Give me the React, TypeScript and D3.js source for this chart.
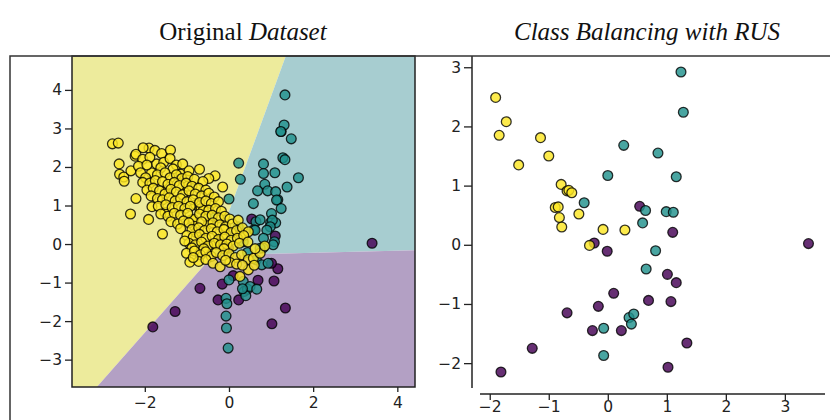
import React, { useEffect, useRef } from 'react';
import * as d3 from 'd3';

type Pt = [number, number];

// minority class, kept whole by RUS so it shows up in both panels
const purplePts: Pt[] = [
  [3.40, 0.02], [-1.81, -2.15], [-1.28, -1.75], [-0.69, -1.15], [-0.26, -1.45], [-0.16, -1.04],
  [0.23, -1.45], [0.10, -0.82], [0.69, -0.94], [1.07, -0.96], [1.16, -0.64], [1.01, -0.50],
  [1.02, -2.07], [1.34, -1.66], [0.54, 0.65], [1.10, 0.21], [-0.01, -0.11], [-0.23, 0.03],
];

// teal points kept by RUS
const tealRus: Pt[] = [
  [1.24, 2.92], [1.28, 2.24], [0.27, 1.68], [0.85, 1.55], [0.00, 1.17], [1.16, 1.15],
  [-0.40, 0.71], [0.64, 0.58], [0.99, 0.56], [1.11, 0.55], [0.59, 0.37], [0.81, -0.10],
  [0.65, -0.41], [0.36, -1.23], [0.44, -1.17], [0.40, -1.34], [-0.07, -1.41], [-0.07, -1.87],
];

// teal points dropped by RUS
const tealExtra: Pt[] = [
  [1.33, 3.87], [1.31, 3.09], [1.23, 2.92], [1.48, 2.73], [1.33, 2.19], [0.23, 2.10],
  [0.82, 2.08], [0.82, 1.83], [1.09, 1.85], [1.65, 1.72], [0.68, 1.38], [0.92, 1.38],
  [1.11, 1.36], [1.38, 1.48], [1.13, 1.14], [1.24, 0.92], [0.58, 1.05], [1.01, 0.79],
  [1.03, 0.62], [0.74, 0.63], [0.98, 0.45], [0.62, 0.36], [0.90, 0.36], [0.34, 0.06],
  [0.82, 0.15], [1.08, 0.06], [1.05, -0.02], [0.74, -0.11], [0.44, -0.22], [0.78, -0.54],
  [0.93, -0.50], [0.00, -0.93], [0.34, -0.97], [0.50, -1.10], [0.66, -1.17], [0.32, -1.16],
  [-0.05, -1.55], [-0.06, -2.18], [-0.02, -2.70], [0.22, 0.45],
];

// yellow points kept by RUS
const yellowRus: Pt[] = [
  [-1.90, 2.49], [-1.72, 2.08], [-1.84, 1.85], [-1.51, 1.35], [-1.14, 1.81], [-1.00, 1.50],
  [-0.79, 1.02], [-0.69, 0.91], [-0.66, 0.92], [-0.61, 0.88], [-0.89, 0.63], [-0.84, 0.64],
  [-0.82, 0.46], [-0.78, 0.30], [-0.49, 0.52], [-0.08, 0.26], [0.29, 0.25], [-0.31, -0.01],
];

// yellow points dropped by RUS
const yellowExtra: Pt[] = [
  [-2.77, 2.60], [-2.63, 2.62], [-2.61, 2.08], [-2.60, 1.81], [-2.50, 1.74], [-2.49, 1.63],
  [-2.33, 1.90], [-2.23, 2.28], [-2.21, 2.33], [-2.04, 2.50], [-1.76, 2.43], [-1.60, 2.35],
  [-1.39, 2.44], [-2.21, 1.18], [-2.34, 0.78], [-1.91, 0.64], [-1.58, 0.26], [-1.83, 0.97],
  [-1.52, 0.82], [-0.70, 1.94], [-0.33, 1.77], [-0.15, 1.48], [-0.48, 1.70],
  [-2.05, 2.20], [-1.88, 2.25], [-1.55, 2.12], [-1.40, 2.22], [-1.25, 2.05], [-1.10, 2.08],
  [-2.15, 2.02], [-1.95, 2.05], [-1.62, 1.98], [-1.33, 1.95], [-0.95, 1.90],
  [-2.10, 1.85], [-1.98, 1.72], [-1.70, 1.80], [-1.52, 1.85], [-1.40, 1.72], [-1.25, 1.80],
  [-1.12, 1.70], [-0.98, 1.75], [-0.82, 1.68], [-0.62, 1.62], [-2.05, 1.60], [-1.88, 1.58],
  [-1.75, 1.65], [-1.58, 1.62], [-1.45, 1.55], [-1.30, 1.60], [-1.18, 1.52], [-1.02, 1.58],
  [-0.88, 1.50], [-0.72, 1.45], [-0.55, 1.40],
  [-1.95, 1.40], [-1.80, 1.45], [-1.65, 1.38], [-1.52, 1.30], [-1.38, 1.42], [-1.25, 1.35],
  [-1.10, 1.28], [-0.95, 1.38], [-0.80, 1.30], [-0.65, 1.25], [-0.48, 1.32], [-0.35, 1.22],
  [-1.85, 1.25], [-1.70, 1.18], [-1.58, 1.15], [-1.42, 1.20], [-1.28, 1.12], [-1.15, 1.18],
  [-1.00, 1.10], [-0.85, 1.15], [-0.70, 1.08], [-0.55, 1.12], [-0.42, 1.05], [-0.25, 1.10],
  [-1.68, 0.98], [-1.50, 1.02], [-1.35, 0.95], [-1.20, 0.98], [-1.05, 0.92], [-0.92, 0.98],
  [-0.48, 0.88], [-0.32, 0.92], [-0.18, 0.85], [-1.62, 0.78], [-1.45, 0.72], [-1.30, 0.80],
  [-1.15, 0.75], [-0.98, 0.80], [-0.70, 0.78], [-0.55, 0.72], [-0.40, 0.75],
  [-0.25, 0.68], [-0.10, 0.72], [0.02, 0.65],
  [-1.38, 0.58], [-1.22, 0.52], [-1.08, 0.60], [-0.95, 0.55], [-0.65, 0.58], [-0.38, 0.55],
  [-0.22, 0.50], [-0.08, 0.45], [0.08, 0.52], [0.22, 0.62], [-1.15, 0.40], [-0.88, 0.38],
  [-0.72, 0.42], [-0.58, 0.35], [-0.42, 0.40], [-0.28, 0.32], [-0.12, 0.38], [0.05, 0.30],
  [0.18, 0.35], [0.32, 0.42], [0.46, 0.32],
  [-1.00, 0.22], [-0.85, 0.18], [-0.70, 0.25], [-0.55, 0.15], [-0.40, 0.20], [-0.25, 0.12],
  [-0.10, 0.18], [0.05, 0.10], [0.20, 0.15], [0.35, 0.22], [-0.95, 0.02], [-0.80, -0.02],
  [-0.65, 0.05], [-0.50, -0.05], [-0.35, 0.02], [-0.20, -0.02], [-0.05, 0.00], [0.10, -0.05],
  [0.25, 0.02], [0.45, 0.05], [-1.05, 0.08], [-0.88, -0.10], [-0.60, -0.12], [-0.12, -0.12],
  [-1.01, -0.24], [-0.93, -0.47], [-0.82, -0.18], [-0.68, -0.28], [-0.55, -0.20], [-0.42, -0.32],
  [-0.30, -0.22], [-0.15, -0.30], [0.00, -0.25], [0.15, -0.35], [0.30, -0.28], [0.46, -0.40],
  [0.58, -0.37], [0.74, -0.24], [-0.72, -0.45], [-0.55, -0.40], [-0.38, -0.50], [-0.21, -0.59],
  [0.02, -0.48], [0.18, -0.52], [0.46, -0.67], [0.26, -0.84], [0.85, -0.05], [0.62, -0.12],
  [-0.85, -0.35], [-0.08, -0.42], [0.32, -0.55], [0.60, -0.55],
];

// decision regions of the left panel, in data units
const regionYellow: Pt[] = [[-3.73, 4.88], [1.35, 4.88], [-0.38, -0.29], [-3.14, -3.71], [-3.73, -3.71]];
const regionTeal: Pt[] = [[1.35, 4.88], [4.42, 4.88], [4.42, -0.16], [-0.38, -0.29]];
const regionPurple: Pt[] = [[-0.38, -0.29], [4.42, -0.16], [4.42, -3.71], [-3.14, -3.71]];

const leftXTicks = [-2, 0, 2, 4];
const leftYTicks = [-3, -2, -1, 0, 1, 2, 3, 4];
const rightXTicks = [-2, -1, 0, 1, 2, 3];
const rightYTicks = [-2, -1, 0, 1, 2, 3];

const W = 830;
const H = 420;
const PURPLE = '#440154';
const TEAL = '#21918c';
const YELLOW = '#fde725';
const FONT = '"DejaVu Sans", sans-serif';

const App = () => {
  const svgRef = useRef<SVGSVGElement>(null);

  useEffect(() => {
    const svg = d3.select(svgRef.current);
    svg.selectAll('*').remove();

    const xL = d3.scaleLinear().domain([-3.73, 4.42]).range([72, 415]);
    const yL = d3.scaleLinear().domain([-3.71, 4.88]).range([387, 56]);
    const xR = d3.scaleLinear().domain([-2.165, 3.68]).range([480, 825]);
    const yR = d3.scaleLinear().domain([-2.42, 3.19]).range([388, 56]);
    const fmt = d3.format('d');

    // titles
    const t1 = svg.append('text').attr('x', 243).attr('y', 40).attr('text-anchor', 'middle')
      .style('font-family', '"Liberation Serif", serif').style('font-size', '25px').attr('fill', '#111');
    t1.append('tspan').text('Original ');
    t1.append('tspan').style('font-style', 'italic').text('Dataset');
    svg.append('text').attr('x', 647).attr('y', 40).attr('text-anchor', 'middle')
      .style('font-family', '"Liberation Serif", serif').style('font-size', '25px')
      .style('font-style', 'italic').attr('fill', '#111').text('Class Balancing with RUS');

    // left panel: regions
    const line = (sx, sy) => d3.line<Pt>().x((d) => sx(d[0])).y((d) => sy(d[1]));
    const regs: [Pt[], string][] = [[regionYellow, '#edeb9c'], [regionTeal, '#a7cdd0'], [regionPurple, '#b3a0c4']];
    regs.forEach(([poly, c]) => {
      svg.append('path').attr('d', line(xL, yL)(poly) + 'Z').attr('fill', c);
    });

    const drawPts = (g, pts: Pt[], color: string, sx, sy) => {
      g.append('g').selectAll('circle').data(pts).enter().append('circle')
        .attr('cx', (d) => sx(d[0])).attr('cy', (d) => sy(d[1])).attr('r', 4.9)
        .attr('fill', color).attr('fill-opacity', 0.82)
        .attr('stroke', '#000').attr('stroke-opacity', 0.8).attr('stroke-width', 1.3);
    };

    const gl = svg.append('g');
    drawPts(gl, purplePts, PURPLE, xL, yL);
    drawPts(gl, tealRus.concat(tealExtra), TEAL, xL, yL);
    drawPts(gl, yellowRus.concat(yellowExtra), YELLOW, xL, yL);

    svg.append('rect').attr('x', 72).attr('y', 56).attr('width', 343).attr('height', 331)
      .attr('fill', 'none').attr('stroke', '#222').attr('stroke-width', 1.5);

    const styleAxis = (g) => {
      g.select('.domain').remove();
      g.selectAll('line').attr('stroke', '#222').attr('stroke-width', 1.3);
      g.selectAll('text').style('font-family', FONT).style('font-size', '15.5px').attr('fill', '#222');
    };

    svg.append('g').attr('transform', 'translate(72,0)')
      .call(d3.axisLeft(yL).tickValues(leftYTicks).tickFormat(fmt).tickSize(7).tickPadding(3)).call(styleAxis);
    svg.append('g').attr('transform', 'translate(0,387)')
      .call(d3.axisBottom(xL).tickValues(leftXTicks).tickFormat(fmt).tickSize(5).tickPadding(5)).call(styleAxis);

    // right panel
    const gr = svg.append('g');
    drawPts(gr, purplePts, PURPLE, xR, yR);
    drawPts(gr, tealRus, TEAL, xR, yR);
    drawPts(gr, yellowRus, YELLOW, xR, yR);

    svg.append('line').attr('x1', 472).attr('x2', 472).attr('y1', 56).attr('y2', 388)
      .attr('stroke', '#222').attr('stroke-width', 1.5);
    svg.append('line').attr('x1', 480).attr('x2', 825).attr('y1', 394).attr('y2', 394)
      .attr('stroke', '#222').attr('stroke-width', 1.5);
    svg.append('g').attr('transform', 'translate(472,0)')
      .call(d3.axisLeft(yR).tickValues(rightYTicks).tickFormat(fmt).tickSize(8).tickPadding(3)).call(styleAxis);
    // the reference cuts these labels at the page edge; kept just inside here
    svg.append('g').attr('transform', 'translate(0,394)')
      .call(d3.axisBottom(xR).tickValues(rightXTicks).tickFormat(fmt).tickSize(6).tickPadding(1)).call(styleAxis);

    // outer frame
    svg.append('path').attr('d', `M10,${H} V56 H${W}`).attr('fill', 'none')
      .attr('stroke', '#333').attr('stroke-width', 1.5);
  }, []);

  return (
    <svg ref={svgRef} width={W} height={H}
      style={{ position: 'absolute', left: 0, top: 0, background: '#fff' }} />
  );
};

export default App;
